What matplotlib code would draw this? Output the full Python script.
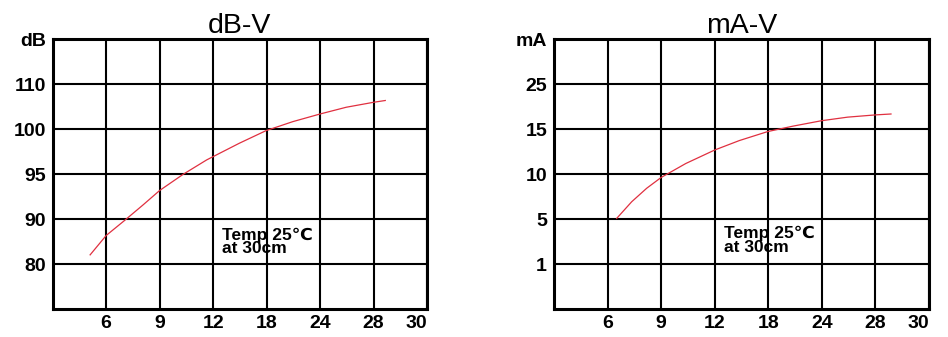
import matplotlib
matplotlib.use("Agg")
import matplotlib.pyplot as plt

plt.rcParams["font.family"] = ["Liberation Sans", "DejaVu Sans"]

# 刻度标签（非等距刻度，按格子序号排布）
x_labels = ["6", "9", "12", "18", "24", "28", "30"]
db_labels = ["80", "90", "95", "100", "110", "dB"]
ma_labels = ["1", "5", "10", "15", "25", "mA"]

# 曲线（以格子为单位读取）
db_curve_x = [0.70, 1.00, 1.35, 1.69, 2.00, 2.44, 2.88, 3.49, 3.99, 4.49,
              5.00, 5.49, 6.00, 6.22]
db_curve_y = [1.21, 1.64, 1.98, 2.32, 2.64, 3.00, 3.32, 3.69, 3.97, 4.17,
              4.34, 4.49, 4.60, 4.64]
ma_curve_x = [1.17, 1.45, 1.73, 2.00, 2.46, 3.00, 3.46, 3.99, 4.46,
              4.99, 5.48, 6.00, 6.29]
ma_curve_y = [2.02, 2.39, 2.69, 2.93, 3.24, 3.54, 3.75, 3.95, 4.07,
              4.19, 4.27, 4.32, 4.34]

note = "Temp 25\u2103\nat 30cm"


def draw_panel(ax, title, ylabels, cx, cy, note_xy):
    ax.set_xlim(0, 7)
    ax.set_ylim(0, 6)
    ax.set_xticks(range(1, 8))
    ax.set_xticklabels(x_labels, fontsize=14, fontweight="bold")
    ax.get_xticklabels()[-1].set_ha("right")
    ax.set_yticks(range(1, 7))
    ax.set_yticklabels(ylabels, fontsize=14, fontweight="bold")
    ax.tick_params(axis="x", length=0, pad=4)
    ax.tick_params(axis="y", length=0, pad=5)
    ax.grid(True, color="black", lw=1.5)
    for s in ax.spines.values():
        s.set_linewidth(2.2)
    ax.plot(cx, cy, color="#e03040", lw=0.9)
    ax.text(note_xy[0], note_xy[1], note, fontsize=12.5, fontweight="bold",
            va="top", ha="left", linespacing=0.9)
    ax.set_title(title, fontsize=20.5, pad=4)


fig = plt.figure(figsize=(9.48, 3.37), dpi=100)
ax1 = fig.add_axes([0.0556, 0.0822, 0.3948, 0.8012])
ax2 = fig.add_axes([0.5844, 0.0822, 0.3956, 0.8012])

draw_panel(ax1, "dB-V", db_labels, db_curve_x, db_curve_y, (3.16, 1.82))
draw_panel(ax2, "mA-V", ma_labels, ma_curve_x, ma_curve_y, (3.18, 1.85))

fig.savefig("out.png", dpi=100)
